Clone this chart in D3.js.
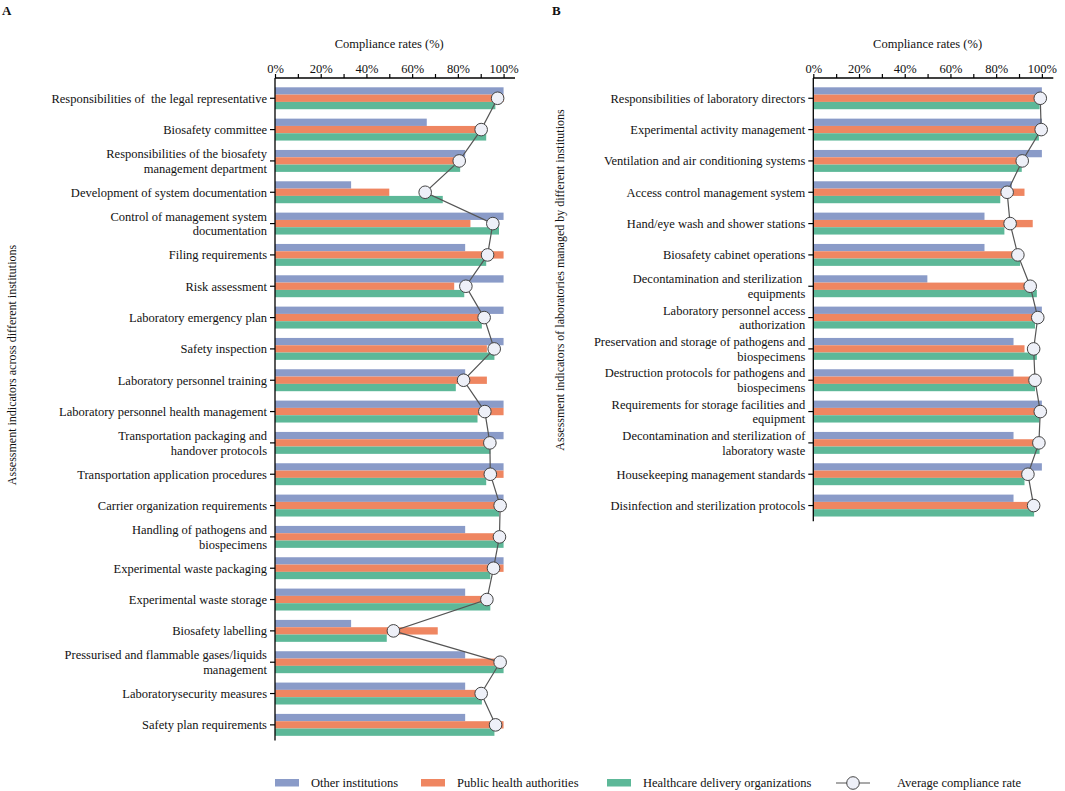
<!DOCTYPE html>
<html>
<head>
<meta charset="utf-8">
<script src="https://cdn.jsdelivr.net/npm/d3@7"></script>
<style>
  body { margin: 0; background: #fff; }
  svg text { font-family: "Liberation Serif", "DejaVu Serif", serif; fill: #111; }
</style>
</head>
<body>
<div id="chart"></div>
<script>
// series names (legend order)
const seriesNames = ["Other institutions", "Public health authorities", "Healthcare delivery organizations"];
const avgName = "Average compliance rate";
const xTickValues = [0, 0.1, 0.2, 0.3, 0.4, 0.5, 0.6, 0.7, 0.8, 0.9, 1.0];

// panel A
const categoriesA = [
  "Responsibilities of  the legal representative",
  "Biosafety committee",
  "Responsibilities of the biosafety\nmanagement department",
  "Development of system documentation",
  "Control of management system\ndocumentation",
  "Filing requirements",
  "Risk assessment",
  "Laboratory emergency plan",
  "Safety inspection",
  "Laboratory personnel training",
  "Laboratory personnel health management",
  "Transportation packaging and\nhandover protocols",
  "Transportation application procedures",
  "Carrier organization requirements",
  "Handling of pathogens and\nbiospecimens",
  "Experimental waste packaging",
  "Experimental waste storage",
  "Biosafety labelling",
  "Pressurised and flammable gases/liquids\nmanagement",
  "Laboratorysecurity measures",
  "Safety plan requirements"
];
const otherA   = [100, 66.4, 83.2, 33.3, 100, 83.2, 100, 100, 100, 83.2, 100, 100, 100, 100, 83.2, 100, 83.2, 33.3, 83.2, 83.2, 83.2];
const publicA  = [100, 89.8, 78.8, 50.0, 85.5, 100, 78.4, 89.8, 92.7, 92.7, 100, 93.4, 100, 98.5, 97.0, 100, 91.2, 71.2, 98.5, 88.3, 100];
const healthA  = [96.4, 92.4, 81.0, 73.4, 98.0, 92.4, 82.8, 90.5, 96.0, 79.1, 88.6, 94.2, 92.4, 98.0, 100, 94.2, 94.2, 48.9, 100, 90.5, 96.0];
const averageA = [97.4, 90.2, 80.6, 65.7, 95.3, 93.0, 83.5, 91.5, 95.9, 82.5, 91.8, 94.0, 94.2, 98.5, 98.2, 95.6, 92.7, 51.8, 98.5, 90.2, 96.5];

// panel B
const categoriesB = [
  "Responsibilities of laboratory directors",
  "Experimental activity management",
  "Ventilation and air conditioning systems",
  "Access control management system",
  "Hand/eye wash and shower stations",
  "Biosafety cabinet operations",
  "Decontamination and sterilization \nequipments",
  "Laboratory personnel access\nauthorization",
  "Preservation and storage of pathogens and\nbiospecimens",
  "Destruction protocols for pathogens and\nbiospecimens",
  "Requirements for storage facilities and\nequipment",
  "Decontamination and sterilization of\nlaboratory waste",
  "Housekeeping management standards",
  "Disinfection and sterilization protocols"
];
const otherB   = [100, 100, 100, 86.9, 74.9, 74.9, 49.9, 100, 87.6, 87.6, 100, 87.6, 100, 87.6];
const publicB  = [99.3, 99.3, 90.0, 92.4, 96.0, 88.0, 93.4, 97.0, 92.4, 96.4, 98.5, 97.8, 93.4, 96.4];
const healthB  = [99.0, 98.7, 91.2, 81.8, 83.6, 90.5, 97.8, 97.0, 97.8, 97.0, 99.0, 99.0, 92.4, 96.6];
const averageB = [99.3, 99.7, 91.4, 84.8, 86.1, 89.5, 94.9, 98.2, 96.4, 97.0, 99.3, 98.7, 93.9, 96.4];

const colors = ["#8a9bc8", "#ef8661", "#5db898"];

const width = 1065, height = 791;
const svg = d3.select("#chart").append("svg")
  .attr("width", width)
  .attr("height", height);

const rowStep = 31.33;
const bandTop = 82.6;
const axisY = 78;

function drawPanel(opts) {
  const { left, cats, series, avg, yTitle, yTitleX, yTitleMid, letter, letterX } = opts;
  const g = svg.append("g");

  const x = d3.scaleLinear([0, 105], [left, left + 240]);
  const y = d3.scaleBand(cats, [bandTop, bandTop + cats.length * rowStep])
    .paddingInner(0.3).paddingOuter(0.15);
  const ySub = d3.scaleBand([0, 1, 2], [0, y.bandwidth()]);

  // bars
  series.forEach((vals, si) => {
    g.append("g").selectAll("rect")
      .data(vals)
      .join("rect")
      .attr("x", x(0))
      .attr("y", (d, i) => y(cats[i]) + ySub(si))
      .attr("width", d => x(d) - x(0))
      .attr("height", ySub.bandwidth())
      .attr("fill", colors[si]);
  });

  // x axis on top
  g.append("g")
    .attr("transform", `translate(0,${axisY})`)
    .call(d3.axisTop(x).tickValues(xTickValues.map(v => v * 100)).tickSize(4)
      .tickFormat(d => (d % 20 === 0 ? d + "%" : "")))
    .call(a => a.select(".domain").attr("d", `M${x(0)},0H${x(105)}`).attr("stroke-width", 1.3))
    .call(a => a.selectAll(".tick line").attr("stroke-width", 1.2))
    .call(a => a.selectAll(".tick text").attr("font-size", 12.5).attr("dy", "0.15em")
      .style("font-family", "'Liberation Serif', serif"));

  g.append("text")
    .attr("x", x(50))
    .attr("y", 48)
    .attr("text-anchor", "middle")
    .attr("font-size", 12.5)
    .text("Compliance rates (%)");

  // y axis
  const yBottom = bandTop + cats.length * rowStep;
  g.append("g")
    .attr("transform", `translate(${x(0)},0)`)
    .call(d3.axisLeft(y).tickSize(5).tickFormat(""))
    .call(a => a.select(".domain").attr("d", `M0,${axisY}V${yBottom}`).attr("stroke-width", 1.3))
    .call(a => a.selectAll(".tick line").attr("stroke-width", 1.2));

  // category labels (multi-line)
  const labels = g.append("g").selectAll("text")
    .data(cats)
    .join("text")
    .attr("text-anchor", "end")
    .attr("font-size", 12.5)
    .style("white-space", "pre")
    .attr("transform", d => `translate(${x(0) - 8},${y(d) + y.bandwidth() / 2})`);
  labels.each(function (d) {
    const lines = d.split("\n");
    const t = d3.select(this);
    lines.forEach((ln, li) => {
      t.append("tspan")
        .attr("x", 0)
        .attr("y", (li - (lines.length - 1) / 2) * 14.5)
        .attr("dy", "0.35em")
        .text(ln);
    });
  });

  // average line + circles
  const line = d3.line()
    .x(d => x(d))
    .y((d, i) => y(cats[i]) + y.bandwidth() / 2);
  g.append("path")
    .attr("d", line(avg))
    .attr("fill", "none")
    .attr("stroke", "#555")
    .attr("stroke-width", 1.2);
  g.append("g").selectAll("circle")
    .data(avg)
    .join("circle")
    .attr("cx", d => x(d))
    .attr("cy", (d, i) => y(cats[i]) + y.bandwidth() / 2)
    .attr("r", 6.3)
    .attr("fill", "#eef0f8")
    .attr("stroke", "#444")
    .attr("stroke-width", 1);

  // y title
  g.append("text")
    .attr("transform", `translate(${yTitleX},${yTitleMid}) rotate(-90)`)
    .attr("text-anchor", "middle")
    .attr("font-size", 12)
    .text(yTitle);

  // panel letter
  g.append("text")
    .attr("x", letterX)
    .attr("y", 15)
    .attr("font-size", 13)
    .attr("font-weight", "bold")
    .text(letter);
}

drawPanel({
  left: 275, cats: categoriesA, series: [otherA, publicA, healthA], avg: averageA,
  yTitle: "Assessment indicators across different institutions", yTitleX: 16, yTitleMid: 365,
  letter: "A", letterX: 2
});
drawPanel({
  left: 813.3, cats: categoriesB, series: [otherB, publicB, healthB], avg: averageB,
  yTitle: "Assessment indicators of laboratories managed by different institutions", yTitleX: 564, yTitleMid: 280,
  letter: "B", letterX: 552
});

// legend
const legend = svg.append("g").attr("transform", "translate(0,783)");
const legendX = [275, 421, 607];
seriesNames.forEach((name, i) => {
  legend.append("rect")
    .attr("x", legendX[i]).attr("y", -4).attr("width", 24).attr("height", 7.5)
    .attr("fill", colors[i]);
  legend.append("text")
    .attr("x", legendX[i] + 36).attr("y", 0).attr("dy", "0.35em")
    .attr("font-size", 12.5)
    .text(name);
});
legend.append("line")
  .attr("x1", 836).attr("x2", 870).attr("y1", 0).attr("y2", 0)
  .attr("stroke", "#555").attr("stroke-width", 1.2);
legend.append("circle")
  .attr("cx", 853).attr("cy", 0).attr("r", 6.3)
  .attr("fill", "#eef0f8").attr("stroke", "#444");
legend.append("text")
  .attr("x", 897).attr("y", 0).attr("dy", "0.35em")
  .attr("font-size", 12.5)
  .text(avgName);
</script>
</body>
</html>
